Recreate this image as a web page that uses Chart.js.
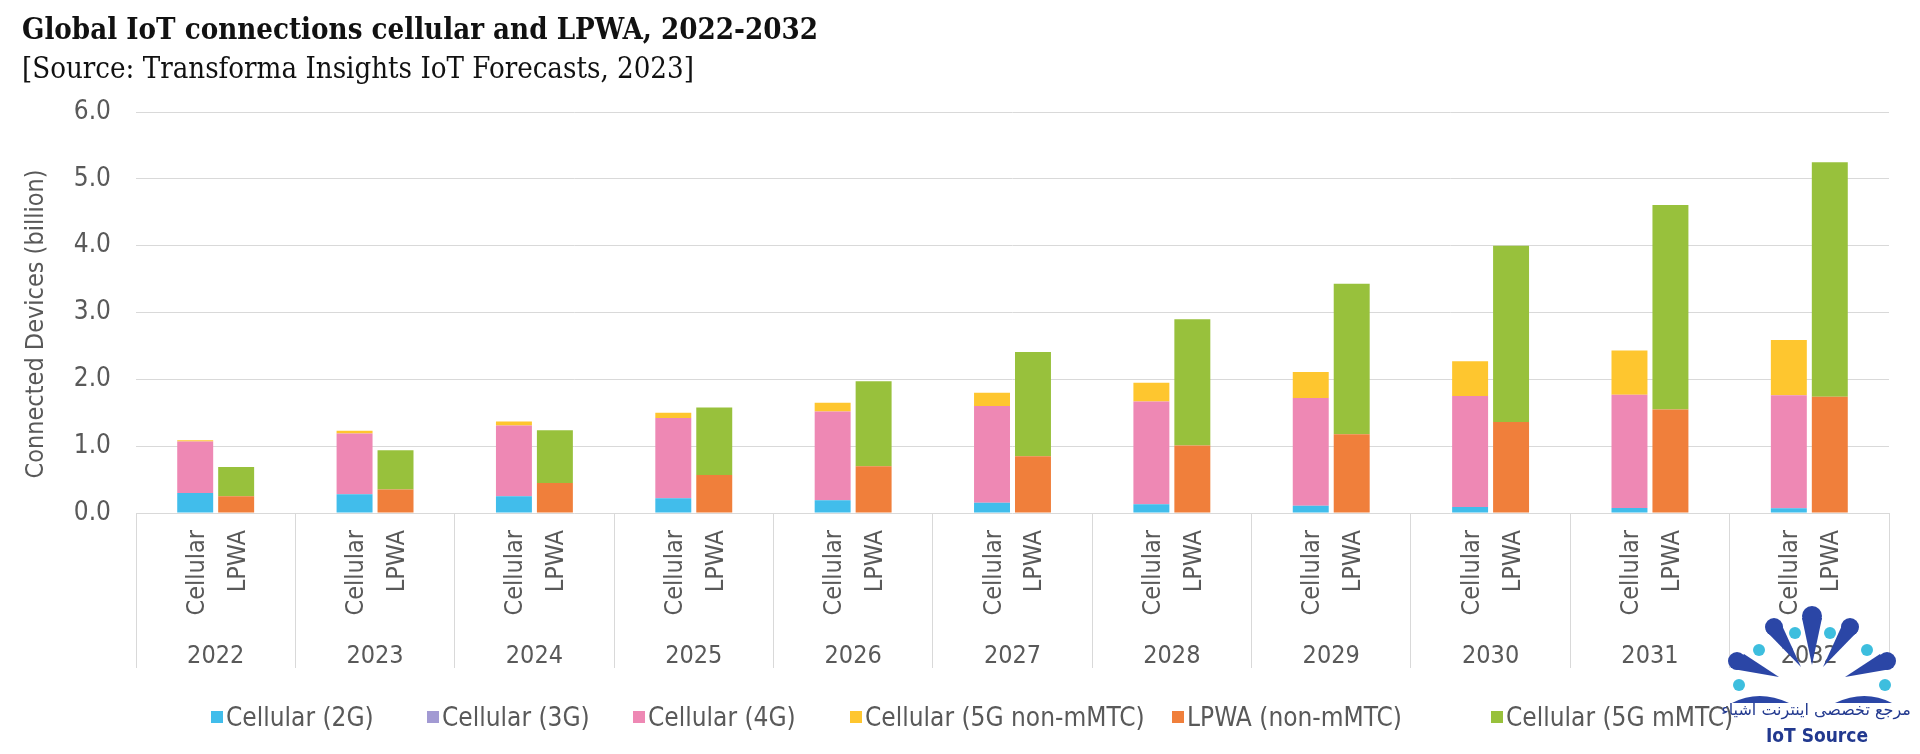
<!DOCTYPE html>
<html><head><meta charset="utf-8">
<script src="https://cdn.jsdelivr.net/npm/chart.js@4.4.1/dist/chart.umd.min.js"></script>
<style>
html,body{margin:0;padding:0;background:#fff;}
#wrap{position:relative;width:1920px;height:754px;overflow:hidden;background:#fff;}
#cv{position:absolute;left:0;top:0;width:1920px;height:754px;}
.t{position:absolute;left:22px;white-space:nowrap;color:#111;line-height:1;font-family:"DejaVu Serif Condensed","DejaVu Serif";font-stretch:condensed;}
#title{font-weight:bold;}
.lg{position:absolute;top:702px;height:30px;display:flex;align-items:center;white-space:nowrap;font-family:"DejaVu Sans Condensed","DejaVu Sans";font-stretch:condensed;font-size:26px;color:#595959;}
.lg i{display:inline-block;width:12px;height:12px;margin-right:3px;}
#logo{position:absolute;left:1716px;top:603px;width:192px;height:100px;}
#fa{position:absolute;left:1716px;top:700px;width:200px;text-align:center;font-family:"DejaVu Sans";font-size:16px;color:#22398f;white-space:nowrap;direction:rtl;}
#iot{position:absolute;left:1722px;top:724px;width:190px;text-align:center;font-family:"DejaVu Sans Condensed","DejaVu Sans";font-stretch:condensed;font-weight:bold;font-size:19px;color:#22398f;}
</style></head>
<body><div id="wrap">
<canvas id="cv" width="1920" height="754"></canvas>
<div id="title" class="t">Global IoT connections cellular and LPWA, 2022-2032</div>
<div id="sub" class="t">[Source: Transforma Insights IoT Forecasts, 2023]</div>
<div id="legend"></div>
<svg id="logo" viewBox="0 0 190 100">
  <g fill="#2b46a6">
    <circle cx="95" cy="13" r="10"/><path d="M85,15 L95,62 L105,15 Z"/>
    <circle cx="57" cy="24" r="9"/><path d="M49,28 L84,64 L63,18 Z"/>
    <circle cx="133" cy="24" r="9"/><path d="M141,28 L106,64 L127,18 Z"/>
    <circle cx="20" cy="58" r="9"/><path d="M16,66 L62,74 L27,51 Z"/>
    <circle cx="170" cy="58" r="9"/><path d="M174,66 L128,74 L163,51 Z"/>
    <path d="M15,100 Q42,86 72,100 Z"/><path d="M118,100 Q148,86 175,100 Z"/>
  </g>
  <g fill="#3dbede">
    <circle cx="78" cy="30" r="6"/><circle cx="113" cy="30" r="6"/>
    <circle cx="42" cy="47" r="6"/><circle cx="150" cy="47" r="6"/>
    <circle cx="22" cy="82" r="6"/><circle cx="168" cy="82" r="6"/>
  </g>
</svg>
<div id="fa">مرجع تخصصی اینترنت اشیاء</div>
<div id="iot">IoT Source</div>
</div>
<script>
// ---- data ----
const years = ['2022','2023','2024','2025','2026','2027','2028','2029','2030','2031','2032'];
const barGroups = ['Cellular','LPWA'];
const yTicks = [0,1,2,3,4,5,6];
const cellular2G = [0.30,0.28,0.25,0.22,0.19,0.155,0.13,0.11,0.09,0.075,0.07];
const cellular3G = [0,0,0,0,0,0,0,0,0,0,0];
const cellular4G = [0.77,0.91,1.06,1.20,1.33,1.445,1.54,1.61,1.66,1.695,1.69];
const cellular5GnonMMTC = [0.02,0.04,0.06,0.08,0.13,0.20,0.28,0.39,0.52,0.66,0.83];
const lpwaNonMMTC = [0.25,0.35,0.45,0.57,0.70,0.85,1.01,1.18,1.36,1.55,1.74];
const cellular5GmMTC = [0.44,0.59,0.79,1.01,1.27,1.56,1.89,2.25,2.64,3.06,3.51];
const seriesNames = ['Cellular (2G)','Cellular (3G)','Cellular (4G)','Cellular (5G non-mMTC)','LPWA (non-mMTC)','Cellular (5G mMTC)'];
const yTitle = 'Connected Devices (billion)';

const colors = ['#41bdeb','#a29ad3','#ee88b4','#fec62f','#f07f3b','#98c13c'];
const seriesData = [cellular2G,cellular3G,cellular4G,cellular5GnonMMTC,lpwaNonMMTC,cellular5GmMTC];
const seriesStack = [barGroups[0],barGroups[0],barGroups[0],barGroups[0],barGroups[1],barGroups[1]];

const SANS = '"DejaVu Sans Condensed", "DejaVu Sans", sans-serif';

const subLabels = {
  id:'subLabels',
  afterDraw(chart){
    const ctx = chart.ctx;
    ctx.save();
    ctx.fillStyle = '#595959';
    ctx.font = '25px ' + SANS;
    ctx.textAlign = 'right';
    ctx.textBaseline = 'middle';
    const metas = [chart.getDatasetMeta(0), chart.getDatasetMeta(4)];
    const yTop = chart.chartArea.bottom + 17;
    years.forEach((y,i)=>{
      metas.forEach((m,k)=>{
        const el = m.data[i];
        ctx.save();
        ctx.translate(el.x + 2, yTop);
        ctx.rotate(-Math.PI/2);
        ctx.fillText(barGroups[k], 0, 0);
        ctx.restore();
      });
    });
    // y axis title
    ctx.font = '25px ' + SANS;
    ctx.textAlign = 'center';
    ctx.save();
    ctx.translate(36, 324);
    ctx.rotate(-Math.PI/2);
    ctx.fillText(yTitle, 0, 0);
    ctx.restore();
    ctx.restore();
  }
};

new Chart(document.getElementById('cv'), {
  type:'bar',
  data:{
    labels: years,
    datasets: seriesNames.map((n,i)=>({
      label:n, data:seriesData[i], stack:seriesStack[i],
      backgroundColor:colors[i], borderWidth:0,
      categoryPercentage:0.514, barPercentage:0.878
    }))
  },
  options:{
    responsive:false, animation:false,
    layout:{padding:{top:112,bottom:86,left:0,right:31}},
    plugins:{legend:{display:false}, tooltip:{enabled:false}, title:{display:false}},
    scales:{
      x:{
        grid:{display:true, drawOnChartArea:false, drawTicks:true, tickLength:155, color:'#d9d9d9', offset:true},
        border:{display:false},
        ticks:{color:'#595959', font:{family:SANS, size:25}, padding:-27, maxRotation:0},
        afterFit(s){ s.height = 155; }
      },
      y:{
        min:0, max:6,
        afterBuildTicks(s){ s.ticks = yTicks.map(v=>({value:v})); },
        grid:{color:'#d9d9d9', drawTicks:false},
        border:{display:false},
        ticks:{color:'#595959', font:{family:SANS, size:26}, padding:25, callback:v=>Number(v).toFixed(1)},
        afterFit(s){ s.width = 136; }
      }
    }
  },
  plugins:[subLabels]
});

// legend (HTML)
const legendX = [211, 427, 633, 850, 1172, 1491];
const lg = document.getElementById('legend');
seriesNames.forEach((n,i)=>{
  const d = document.createElement('div');
  d.className='lg'; d.style.left = legendX[i]+'px';
  d.innerHTML = '<i style="background:'+colors[i]+'"></i><span>'+n+'</span>';
  lg.appendChild(d);
});

// fit title/subtitle widths
function fit(id, target, baseline){
  const el = document.getElementById(id);
  let fs = 28;
  el.style.fontSize = fs+'px';
  const w = el.getBoundingClientRect().width;
  fs = fs * target / w;
  el.style.fontSize = fs.toFixed(2)+'px';
  el.style.top = (baseline - 0.846*fs).toFixed(1)+'px';
}
fit('title', 796, 40);
fit('sub', 672, 79);
</script>
</body></html>
